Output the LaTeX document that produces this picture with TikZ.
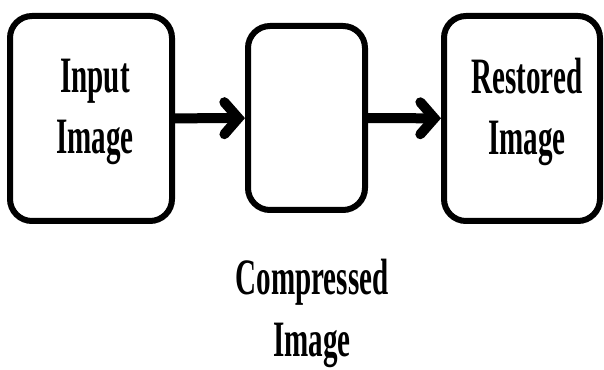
\documentclass[tikz,border=0pt]{standalone}
\usepackage{fontspec}
\setmainfont{Liberation Serif}[FakeStretch=0.57]
\usetikzlibrary{arrows.meta}
\begin{document}
\begin{tikzpicture}[x=1pt, y=1pt,
	box/.style={draw, line width=6pt, rounded corners=22pt, inner sep=0pt},
	txt/.style={align=center, inner sep=0pt, font=\fontsize{51}{61}\selectfont\bfseries},
	arr/.style={line width=10pt, -{Straight Barb[length=14pt, width=32pt, line cap=round]}}]
	\useasboundingbox (0,0) rectangle (604,369);
	\node[box, minimum width=162pt, minimum height=205pt] (inp) at (91,250.5) {};
	\node[box, minimum width=117pt, minimum height=184pt] (cmp) at (306.5,251) {};
	\node[box, minimum width=156pt, minimum height=205pt] (rst) at (522,250.5) {};
	\node[txt] (inptxt) at ([xshift=4pt, yshift=7pt]inp.center) {Input\\Image};
	\node[txt] (rsttxt) at ([xshift=5pt, yshift=7pt]rst.center) {Restored\\Image};
	\node[txt, font=\fontsize{51}{62}\selectfont\bfseries] (cmplabel) at (312,56) {Compressed\\Image};
	\draw[arr] (inp) -- (cmp);
	\draw[arr] (cmp) -- (rst);
\end{tikzpicture}
\end{document}
